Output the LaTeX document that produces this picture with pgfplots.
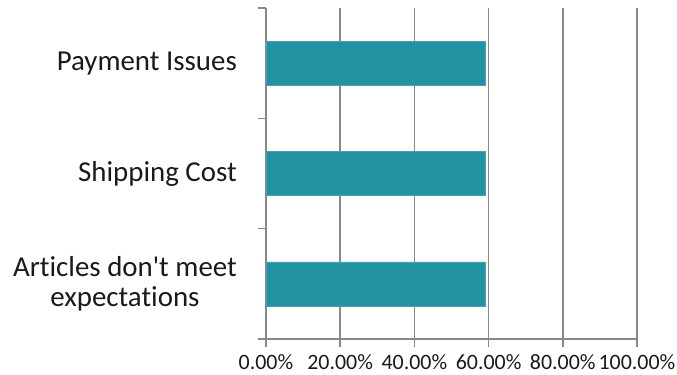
\documentclass[border=0pt]{standalone}
\usepackage{fontspec}
\setmainfont{Carlito}[Ligatures={TeXOff,NoCommon}]
\usepackage{pgfplots}
\pgfplotsset{compat=1.18}
\definecolor{barteal}{RGB}{35,147,162}
\definecolor{gridgray}{RGB}{136,136,136}
\definecolor{labeltext}{RGB}{26,26,26}
\begin{document}
\begin{tikzpicture}
\begin{axis}[
  at={(266bp,36bp)}, anchor=south west,
  scale only axis, width=371bp, height=331bp,
  xbar, bar width=44bp,
  xmin=0, xmax=100, ymin=0.5, ymax=3.5,
  axis x line*=bottom, axis y line*=left,
  axis line style={gridgray, line width=1.5bp},
  tick style={gridgray, line width=1.5bp},
  tick align=outside,
  major tick length=8bp,
  xtick={0,20,40,60,80,100},
  xticklabels={0.00\%,20.00\%,40.00\%,60.00\%,80.00\%,100.00\%},
  xmajorgrids,
  grid style={gridgray, line width=1.5bp},
  x tick label style={font=\fontsize{22}{26}\selectfont, text=labeltext, yshift=-4bp},
  ytick={0.5,1.5,2.5,3.5},
  yticklabels={,,,},
  /pgf/number format/assume math mode=true,
  clip=false,
]
\addplot[fill=barteal, draw=barteal!85!white, line width=0.6bp] coordinates {(59,1) (59,2) (59,3)};
% category names to the left of the bars
\begin{scope}[every node/.style={anchor=east, align=center, inner sep=0pt,
    xshift=-29bp, text=labeltext, font=\fontsize{29}{31}\selectfont}]
  \node at (axis cs:0,1) {Articles don't meet\\expectations};
  \node at (axis cs:0,2) {Shipping Cost};
  \node at (axis cs:0,3) {Payment Issues};
\end{scope}
\end{axis}
\pgfresetboundingbox
\useasboundingbox (0,0) rectangle (677bp,375bp);
\end{tikzpicture}
\end{document}
